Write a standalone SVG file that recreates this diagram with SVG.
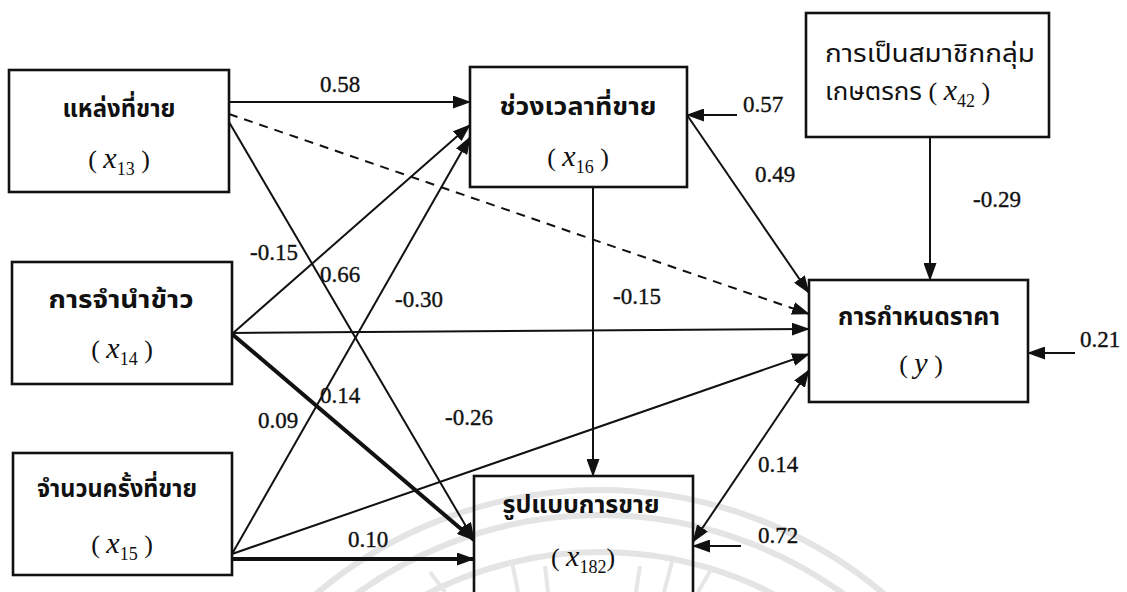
<svg xmlns="http://www.w3.org/2000/svg" width="1127" height="592" viewBox="0 0 1127 592">
<style>
.bg{fill:#fff}
.box{fill:none;stroke:#111;stroke-width:2.6}
.th{font-family:"Noto Sans Thai","Noto Sans","DejaVu Sans",sans-serif;font-weight:bold;font-size:25px;fill:#111;text-anchor:middle}
.thr{font-family:"Noto Sans Thai","Noto Sans","DejaVu Sans",sans-serif;font-size:25px;fill:#111}
.var{font-family:"Liberation Serif","Times New Roman",serif;font-size:26px;fill:#111;text-anchor:middle}
.vs{font-family:"Liberation Serif","Times New Roman",serif}
.vi{font-style:italic;font-size:30px}
.sub{font-size:18px}
.lbl{font-family:"Liberation Serif","Times New Roman",serif;font-size:23px;fill:#111;stroke:#111;stroke-width:0.35}
.ln{stroke:#111;stroke-width:2;fill:none;marker-end:url(#ah)}
.thick{stroke-width:4}
.dash{stroke-dasharray:9 7}
.both{marker-start:url(#ah)}
.wm{fill:none;stroke:#e4e4e4;stroke-width:6}
.ray{stroke:#e6e6e6;stroke-width:4}
</style>
<defs>
<marker id="ah" markerUnits="userSpaceOnUse" markerWidth="18" markerHeight="13" refX="17" refY="6.5" orient="auto-start-reverse" viewBox="0 0 18 13">
<path d="M0,0 L18,6.5 L0,13 z" fill="#111"/>
</marker>
</defs>
<rect class="bg" width="1127" height="592"/>
<g id="watermark">
<circle class="wm" cx="600" cy="930" r="440"/>
<circle class="wm" cx="600" cy="930" r="415"/>
<circle class="wm" cx="600" cy="930" r="378"/>
<line class="ray" x1="430" y1="572" x2="445" y2="592"/>
<line class="ray" x1="512" y1="562" x2="518" y2="592"/>
<line class="ray" x1="545" y1="566" x2="548" y2="592"/>
<line class="ray" x1="640" y1="566" x2="636" y2="592"/>
<line class="ray" x1="672" y1="562" x2="664" y2="592"/>
<line class="ray" x1="712" y1="568" x2="698" y2="592"/>
</g>
<g id="connectors">
<line class="ln" x1="229" y1="102" x2="470" y2="102"/>
<line class="ln dash" x1="229" y1="114" x2="809" y2="314"/>
<line class="ln" x1="229" y1="122" x2="474" y2="540"/>
<line class="ln" x1="232" y1="334" x2="470" y2="125"/>
<line class="ln" x1="232" y1="333" x2="809" y2="329"/>
<line class="ln thick" x1="232" y1="334" x2="474" y2="540"/>
<line class="ln" x1="232" y1="554" x2="470" y2="137"/>
<line class="ln" x1="232" y1="554" x2="809" y2="354"/>
<line class="ln thick" x1="232" y1="559" x2="474" y2="559"/>
<line class="ln" x1="593" y1="187" x2="593" y2="476"/>
<line class="ln" x1="687" y1="115" x2="809" y2="293"/>
<line class="ln both" x1="693" y1="542" x2="809" y2="370"/>
<line class="ln" x1="930" y1="137" x2="930" y2="280"/>
<line class="ln" x1="737" y1="115" x2="687" y2="115"/>
<line class="ln" x1="741" y1="546" x2="693" y2="546"/>
<line class="ln" x1="1075" y1="353" x2="1028" y2="353"/>
</g>
<g id="labels">
<text class="lbl" x="320" y="92">0.58</text>
<text class="lbl" x="743" y="112">0.57</text>
<text class="lbl" x="755" y="182">0.49</text>
<text class="lbl" x="973" y="207">-0.29</text>
<text class="lbl" x="250" y="260">-0.15</text>
<text class="lbl" x="320" y="282">0.66</text>
<text class="lbl" x="395" y="307">-0.30</text>
<text class="lbl" x="613" y="304">-0.15</text>
<text class="lbl" x="320" y="403">0.14</text>
<text class="lbl" x="258" y="428">0.09</text>
<text class="lbl" x="445" y="425">-0.26</text>
<text class="lbl" x="348" y="547">0.10</text>
<text class="lbl" x="758" y="472">0.14</text>
<text class="lbl" x="758" y="543">0.72</text>
<text class="lbl" x="1080" y="347">0.21</text>
</g>
<g id="n_x13">
<rect class="box" x="9" y="70" width="220" height="122"/>
<text class="th" x="119" y="117" textLength="113" lengthAdjust="spacingAndGlyphs">แหล่งที่ขาย</text>
<text class="var" x="119" y="168">( <tspan class="vi">x</tspan><tspan class="sub" dy="7">13</tspan><tspan dy="-7"> )</tspan></text>
</g>
<g id="n_x14">
<rect class="box" x="12" y="262" width="220" height="122"/>
<text class="th" x="121" y="308" textLength="145" lengthAdjust="spacingAndGlyphs">การจำนำข้าว</text>
<text class="var" x="122" y="358">( <tspan class="vi">x</tspan><tspan class="sub" dy="7">14</tspan><tspan dy="-7"> )</tspan></text>
</g>
<g id="n_x15">
<rect class="box" x="13" y="453" width="219" height="122"/>
<text class="th" x="117" y="497" textLength="160" lengthAdjust="spacingAndGlyphs">จำนวนครั้งที่ขาย</text>
<text class="var" x="122" y="553">( <tspan class="vi">x</tspan><tspan class="sub" dy="7">15</tspan><tspan dy="-7"> )</tspan></text>
</g>
<g id="n_x16">
<rect class="box" x="470" y="67" width="217" height="120"/>
<text class="th" x="578" y="115" textLength="157" lengthAdjust="spacingAndGlyphs">ช่วงเวลาที่ขาย</text>
<text class="var" x="578" y="166">( <tspan class="vi">x</tspan><tspan class="sub" dy="7">16</tspan><tspan dy="-7"> )</tspan></text>
</g>
<g id="n_x182">
<rect class="box" x="474" y="476" width="219" height="125"/>
<text class="th" x="581" y="513" textLength="157" lengthAdjust="spacingAndGlyphs">รูปแบบการขาย</text>
<text class="var" x="583" y="566">( <tspan class="vi">x</tspan><tspan class="sub" dy="7">182</tspan><tspan dy="-7">)</tspan></text>
</g>
<g id="n_x42">
<rect class="box" x="806" y="13" width="243" height="124"/>
<text class="thr" x="825" y="62" textLength="210" lengthAdjust="spacingAndGlyphs">การเป็นสมาชิกกลุ่ม</text>
<text class="thr" x="825" y="100"><tspan textLength="97" lengthAdjust="spacingAndGlyphs">เกษตรกร</tspan><tspan class="vs" font-size="26"> ( </tspan><tspan class="vs" font-style="italic" font-size="30">x</tspan><tspan class="vs" font-size="18" dy="7">42</tspan><tspan class="vs" font-size="26" dy="-7"> )</tspan></text>
</g>
<g id="n_y">
<rect class="box" x="809" y="280" width="219" height="122"/>
<text class="th" x="919" y="325" textLength="162" lengthAdjust="spacingAndGlyphs">การกำหนดราคา</text>
<text class="var" x="921" y="373">( <tspan class="vi">y</tspan> )</text>
</g>
</svg>
